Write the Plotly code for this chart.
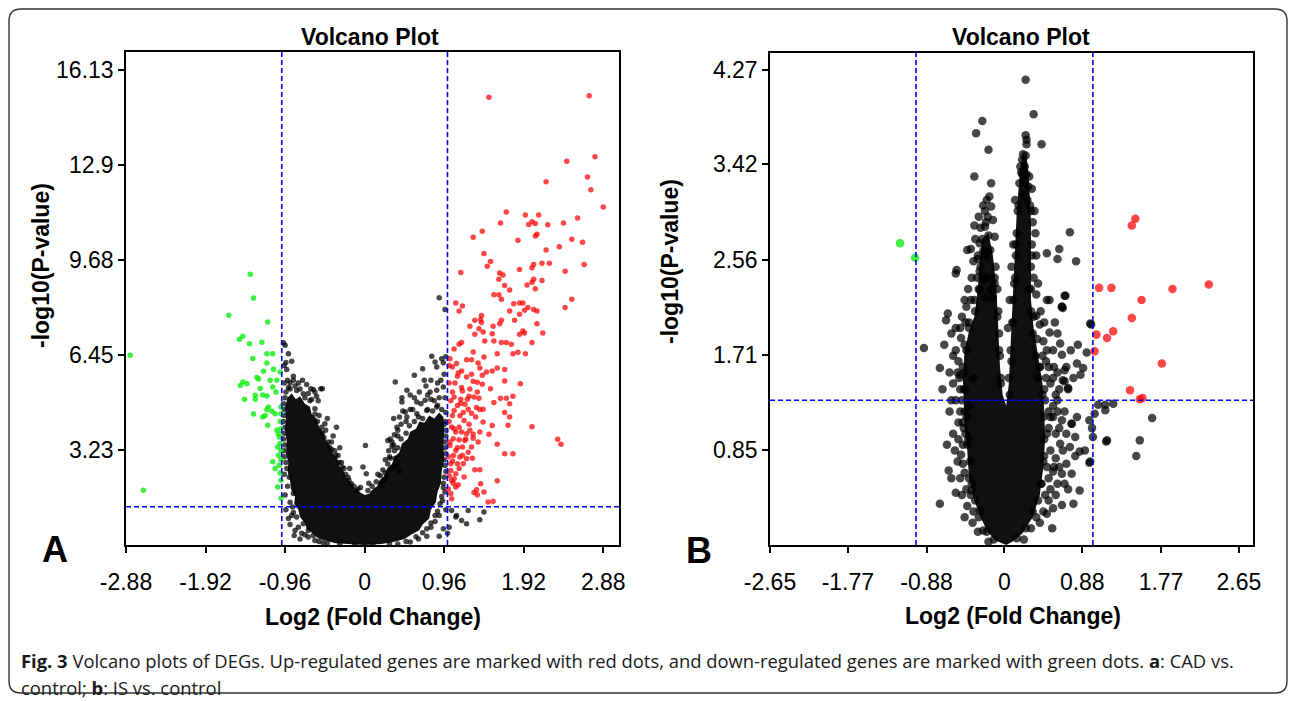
import plotly.graph_objects as go

# ---------------- data ----------------
# Panel A : CAD vs control
a_x_ticks = [-2.88, -1.92, -0.96, 0, 0.96, 1.92, 2.88]
a_x_ticktext = ["-2.88", "-1.92", "-0.96", "0", "0.96", "1.92", "2.88"]
a_y_ticks = [3.23, 6.45, 9.68, 12.9, 16.13]
a_y_ticktext = ["3.23", "6.45", "9.68", "12.9", "16.13"]

a_up = [(1.50,15.21),(2.71,15.26),(2.44,13.04),(2.78,13.19),(2.69,12.50),(2.19,12.34),(2.73,12.07),(2.88,11.48),
(1.71,11.31),(1.94,11.21),(2.10,11.21),(1.64,10.94),(1.98,10.89),(2.02,10.98),(2.06,10.92),(2.21,10.88),(2.40,10.94),
(2.57,11.11),(1.42,10.66),(1.31,10.46),(1.85,10.35),(2.06,10.50),(2.08,10.56),(2.50,10.39),(2.63,10.29),(2.35,10.13),
(2.19,10.02),(1.44,9.90),(1.52,9.63),(1.48,9.47),(1.16,9.26),(1.87,9.36),(2.02,9.42),(2.04,9.53),(2.14,9.57),(2.23,9.57),
(2.42,9.30),(2.65,9.53),(1.63,9.24),(1.67,9.17),(1.62,9.03),(1.69,8.82),(1.75,8.66),(1.96,8.83),(2.02,8.93),(2.04,9.03),
(2.14,8.99),(2.06,8.71),(1.56,8.50),(1.62,8.50),(2.50,8.35),(1.65,8.35),(1.10,8.22),(1.18,8.12),(1.14,7.95),(1.80,8.20),
(1.87,8.22),(1.91,8.22),(1.97,8.07),(2.04,8.00),(2.08,7.95),(1.93,7.98),(1.87,7.84),(1.75,7.95),(2.42,8.07),(1.41,7.80),
(1.40,7.66),(1.33,7.64),(1.41,7.56),(1.27,7.43),(1.65,7.64),(1.63,7.52),(1.81,7.64),(1.55,7.43),(1.38,7.35),(1.43,7.24),
(1.33,7.16),(1.54,7.18),(2.08,7.52),(1.91,7.27),(1.93,7.20),(1.87,7.16),(2.15,7.20),(1.45,6.93),(1.56,6.93),(1.65,6.88),
(1.71,6.88),(1.77,6.82),(2.02,6.88),(1.14,6.82),(1.17,6.88),(1.08,6.66),(1.31,6.56),(1.60,6.50),(1.79,6.50),(1.85,6.55),
(1.94,6.50),(1.44,6.39),(1.23,6.29),(1.29,6.29),(1.11,6.17),(1.37,6.18),(1.03,6.33),(1.06,6.05),(1.17,5.91),(1.13,5.84),
(1.39,6.01),(1.47,5.88),(1.54,5.91),(1.60,6.01),(1.69,5.96),(1.12,5.73),(1.29,5.80),(1.23,5.71),(1.42,5.77),(1.69,5.57),
(1.88,5.48),(1.31,5.56),(1.36,5.53),(1.42,5.46),(1.18,5.23),(1.06,5.20),(1.08,5.03),(1.27,5.30),(1.32,5.03),(1.36,5.20),
(1.38,4.99),(1.52,5.31),(1.64,4.99),(1.71,4.99),(1.79,5.05),(1.75,4.80),(1.56,4.84),(1.12,4.74),(1.16,4.82),(1.21,4.78),
(1.25,4.61),(1.29,4.48),(1.35,4.67),(1.39,4.60),(1.43,4.61),(1.08,4.57),(1.15,4.39),(1.20,4.23),(1.34,4.35),(1.69,4.50),
(1.75,4.35),(1.43,4.18),(1.54,4.06),(1.50,3.76),(1.73,4.07),(2.02,4.02),(1.05,4.01),(1.10,3.84),(1.17,3.84),(1.23,3.78),
(1.31,3.76),(1.39,3.84),(2.33,3.59),(2.37,3.42),(1.07,3.61),(1.14,3.58),(1.21,3.55),(1.31,3.63),(1.37,3.50),(1.60,3.42),
(1.03,3.38),(1.10,3.21),(1.18,3.33),(1.29,3.33),(1.69,3.10),(1.79,3.10),(1.07,3.04),(1.15,2.99),(1.23,2.93),(1.04,2.76),
(1.12,2.76),(1.19,2.76),(1.33,2.56),(1.39,2.56),(1.04,2.53),(1.10,2.42),(1.20,2.31),(1.05,2.19),(1.60,2.18),(1.40,2.08),
(1.07,2.10),(1.10,1.97),(1.35,1.88),(1.32,1.78),(1.44,1.80),(1.36,1.71),(1.05,1.57),(1.49,1.46),(1.55,1.49),
(1.02,5.50),(1.04,4.90),(1.06,4.40),(1.02,4.20),(1.08,3.95),(1.03,3.50),(1.12,3.30),(1.01,3.00),(1.06,2.85),(1.14,2.60),
(1.02,2.35),(1.08,2.25),(1.13,2.05),(1.01,1.90),(1.04,1.75),(1.16,4.95),(1.24,4.95),(1.19,4.50),(1.26,4.10),(1.14,4.00),
(1.22,3.60),(1.27,3.90),(1.18,3.05),(1.25,3.15),(1.30,2.95),(1.02,6.10),(1.09,5.50),(1.17,5.35),(1.26,5.05)]

a_down = [(-1.38,9.20),(-1.34,8.39),(-1.64,7.81),(-1.17,7.58),(-1.47,7.09),(-1.51,6.99),(-1.39,6.84),(-1.24,6.89),
(-2.83,6.45),(-1.18,6.50),(-1.11,6.50),(-1.35,6.34),(-1.18,6.18),(-1.10,5.97),(-1.02,5.88),(-1.30,5.69),(-1.28,5.64),
(-1.47,5.54),(-1.50,5.42),(-1.42,5.48),(-1.06,5.60),(-1.26,5.32),(-1.11,5.37),(-1.07,5.20),(-1.32,5.09),(-1.23,5.10),
(-1.18,5.06),(-1.45,4.95),(-1.32,4.95),(-1.16,4.69),(-1.18,4.60),(-1.12,4.54),(-1.08,4.46),(-1.01,4.69),(-1.01,4.46),
(-1.34,4.45),(-1.23,4.35),(-1.20,4.40),(-1.17,4.07),(-1.04,3.78),(-1.03,3.67),(-1.05,3.33),(-1.01,3.21),(-1.11,2.83),
(-1.03,2.71),(-1.05,1.97),(-1.01,1.59),(-2.67,1.86),(-1.02,4.20),(-1.01,3.95),(-1.06,3.90),(-1.02,3.45),(-1.04,3.05),
(-1.01,2.90),(-1.08,2.60),(-1.02,2.45),(-1.01,2.20),(-1.14,5.60),(-1.22,5.90)]

a_ns = [(-0.98,6.87),(-0.96,6.79),(-0.88,6.24),(-0.94,5.96),(-0.86,5.73),(-0.86,5.60),(-0.97,5.50),(-0.95,5.20),
(-0.92,5.35),(-0.98,4.80),(-0.97,4.40),(-0.96,4.00),(-0.98,3.60),(-0.97,3.20),(-0.95,2.80),(-0.97,2.40),(-0.93,2.00),
(-0.96,1.70),(-0.90,1.45),(-0.95,1.20),(-0.92,0.90),
(-0.74,5.14),(-0.62,5.28),(-0.51,5.31),(-0.53,5.31),(-0.65,5.31),(-0.64,4.94),(-0.60,4.63),(-0.48,4.12),(-0.47,3.90),
(-0.51,3.80),(-0.40,3.50),(-0.32,3.04),(-0.25,2.60),(-0.16,2.08),(-0.10,1.85),(-0.80,5.50),(-0.70,5.45),(-0.56,4.90),
(-0.55,4.40),(-0.42,3.30),(-0.36,3.20),(-0.28,2.80),(-0.20,2.30),
(0.01,3.38),(-0.02,2.65),(0.02,2.42),(0.10,1.76),(-0.05,1.95),(0.05,2.10),
(0.28,3.55),(0.37,5.54),(0.51,5.26),(0.45,4.86),(0.49,4.52),(0.38,2.70),(0.42,2.50),(0.30,3.00),(0.35,3.40),(0.20,2.10),
(0.25,2.45),(0.40,3.70),(0.44,4.10),(0.55,4.60),(0.60,5.00),
(0.60,5.77),(0.70,5.99),(0.72,5.60),(0.74,5.40),(0.81,6.41),(0.85,6.22),(0.93,6.33),(0.87,6.05),(0.95,6.19),(0.98,6.40),
(0.63,4.86),(0.73,4.92),(0.79,5.20),(0.87,5.26),(0.95,5.37),(0.51,4.35),(0.63,4.46),(0.75,4.57),(0.87,4.69),(0.90,8.40),
(0.97,8.00),(0.96,5.80),(0.92,5.60),
(0.97,5.00),(0.98,4.50),(0.96,4.10),(0.98,3.70),(0.97,3.30),(0.96,2.90),(0.98,2.50),(0.95,2.10),(0.97,1.80),(0.94,1.50),
(0.98,1.20),(0.90,1.00),
(1.05,1.17),(1.11,1.00),(1.17,0.83),(1.23,0.72),(1.25,1.17),(1.44,1.12),(1.39,0.86),(1.10,0.95),(1.02,0.60),(1.00,0.40),
(0.95,0.55),(0.90,0.30),
(-0.87,1.29),(-0.82,0.95),(-0.74,0.72),(-0.84,0.49),(-0.68,0.49),(-0.62,0.32),(-0.85,0.32),(-0.68,0.27),(-0.90,0.70),
(-0.78,0.20),(-0.55,0.12),(-0.45,0.05),
(0.80,0.60),(0.75,0.30),(0.65,0.20),(0.55,0.10),(0.40,0.03),(0.85,0.80),
(-0.88,1.00),(-0.86,1.75),(-0.91,2.30),(-0.94,2.60),(-0.97,3.00),(-0.96,3.40),(-0.97,3.80),(-0.98,4.20),(-0.97,4.60),
(-0.96,5.00),(-0.90,5.30),(-0.82,5.25),(-0.76,0.40),(-0.72,0.35),(-0.60,0.15),(-0.50,0.08),(-0.80,0.60),(-0.86,1.10),
(-0.72,5.00),(-0.66,4.90),(-0.60,4.45),(-0.57,4.20),(-0.52,4.00),(-0.49,3.65),(-0.44,3.50),(-0.40,3.25),(-0.35,3.05),
(-0.31,2.80),(-0.27,2.65),(-0.23,2.40),(-0.19,2.20),(-0.13,2.00),(-0.08,1.90),(-0.58,5.05),(-0.45,4.30),(-0.38,3.70),
(-0.30,3.30),(-0.18,2.60),(-0.34,4.00),
(0.04,1.85),(0.09,2.00),(0.14,2.15),(0.19,2.35),(0.22,2.55),(0.28,2.75),(0.31,2.95),(0.36,3.20),(0.40,3.30),(0.44,3.60),
(0.50,3.80),(0.54,4.05),(0.60,4.20),(0.65,4.35),(0.70,4.30),(0.76,4.60),(0.82,4.55),(0.88,4.75),(0.93,4.60),(0.16,2.40),
(0.25,2.90),(0.33,3.50),(0.40,3.90),(0.50,4.20),(0.58,4.60),(0.68,4.80),(0.80,4.95),(0.90,5.00),
(0.97,4.20),(0.98,3.90),(0.97,3.50),(0.98,3.10),(0.97,2.70),(0.96,2.30),(0.95,1.95),(0.93,1.65),(0.91,1.40),(0.88,1.15),
(0.85,1.00),(0.80,0.75),(0.75,0.55),(0.70,0.42),(0.62,0.28),(0.50,0.12),
(-0.12,0.00),(0.10,0.00),(-0.30,0.02),(0.30,0.04),
(0.29,3.20),(0.33,3.35),(0.31,3.60),(0.36,3.75),(0.39,4.00),(0.42,4.35),(0.46,4.55),(0.37,2.95),(0.32,2.60),(0.27,2.35),
(0.24,2.20),(0.21,2.00),(0.35,4.30),(0.45,5.00),(0.55,5.10),(0.66,5.20),(0.80,5.60),(0.88,5.50),(0.84,4.90),(0.76,5.10),
(-0.93,5.60),(-0.90,5.50),(-0.84,5.40),(-0.78,5.30),(-0.75,5.60),(-0.95,6.20),(-0.92,6.50),(-0.97,6.10),(-0.60,5.20),
(-0.68,5.15)]

# outline of the densely overplotted (solid black) part of the cloud in A
a_core = [(0.00,0.00),(-0.20,0.02),(-0.35,0.06),(-0.48,0.15),(-0.56,0.22),(-0.62,0.38),(-0.70,0.55),(-0.72,0.75),
(-0.78,0.95),(-0.80,1.20),(-0.85,1.40),(-0.84,1.65),(-0.89,1.90),(-0.90,2.20),(-0.93,2.50),(-0.92,2.80),(-0.95,3.10),
(-0.94,3.50),(-0.96,3.90),(-0.95,4.30),(-0.96,4.70),(-0.93,5.00),(-0.88,5.15),(-0.83,4.95),(-0.78,5.05),(-0.72,4.80),
(-0.66,4.70),(-0.64,4.45),(-0.58,4.30),(-0.55,4.00),(-0.50,3.85),(-0.47,3.55),(-0.42,3.40),(-0.38,3.10),(-0.33,2.95),
(-0.30,2.65),(-0.25,2.50),(-0.22,2.25),(-0.16,2.10),(-0.12,1.90),(-0.06,1.80),(0.00,1.70),(0.06,1.75),(0.10,1.90),
(0.15,2.00),(0.18,2.20),(0.24,2.35),(0.27,2.60),(0.33,2.75),(0.36,3.00),(0.42,3.15),(0.45,3.45),(0.52,3.60),(0.55,3.85),
(0.62,3.95),(0.66,4.20),(0.72,4.15),(0.78,4.40),(0.84,4.30),(0.90,4.50),(0.95,4.35),(0.96,3.90),(0.95,3.40),(0.96,2.90),
(0.93,2.50),(0.92,2.10),(0.88,1.80),(0.86,1.45),(0.80,1.20),(0.78,0.90),(0.70,0.70),(0.66,0.50),(0.56,0.35),(0.48,0.20),
(0.35,0.10),(0.20,0.03),(0.00,0.00)]

# Panel B : IS vs control
b_x_ticks = [-2.65, -1.77, -0.88, 0, 0.88, 1.77, 2.65]
b_x_ticktext = ["-2.65", "-1.77", "-0.88", "0", "0.88", "1.77", "2.65"]
b_y_ticks = [0.85, 1.71, 2.56, 3.42, 4.27]
b_y_ticktext = ["0.85", "1.71", "2.56", "3.42", "4.27"]

b_up = [(1.48,2.93),(1.44,2.87),(1.07,2.31),(1.21,2.31),(1.90,2.30),(2.31,2.34),(1.55,2.20),(1.44,2.04),(1.04,1.89),
(1.16,1.86),(1.23,1.92),(1.02,1.74),(1.78,1.63),(1.42,1.39),(1.56,1.32),(1.53,1.31)]
b_down = [(-1.18,2.71),(-1.01,2.58)]

b_ns = [(0.24,4.18),(0.33,3.87),(-0.25,3.81),(-0.32,3.70),(-0.18,3.55),(0.24,3.68),(0.25,3.64),(0.42,3.60),(0.21,3.51),
(0.20,3.46),(0.18,3.40),(0.23,3.40),(0.25,3.33),(0.28,3.31),(0.20,3.33),(-0.34,3.31),(-0.15,3.25),(0.27,3.22),(0.22,3.15),
(-0.17,3.13),(-0.20,3.10),(-0.15,3.04),(-0.22,3.00),(-0.13,2.92),(-0.34,2.87),(-0.22,2.86),(-0.11,2.77),(-0.28,2.71),
(-0.24,2.64),(-0.20,2.59),(-0.30,2.57),(-0.42,2.65),(-0.38,2.66),(-0.54,2.47),(-0.55,2.44),(-0.28,2.46),(-0.24,2.38),
(-0.20,2.41),(-0.11,2.40),(-0.28,2.29),(-0.15,2.29),(-0.13,2.22),(-0.22,2.22),(-0.45,2.20),(-0.43,2.14),(0.74,2.81),
(0.48,2.62),(0.62,2.66),(0.60,2.57),(0.81,2.55),(0.48,2.20),(0.69,2.24),(0.65,2.14),(0.68,2.24),(0.66,2.13),
(0.15,3.00),(0.30,3.00),(0.14,2.80),(0.31,2.70),(0.13,2.60),(0.30,2.50),(0.12,2.40),(0.28,2.30),(0.10,2.20),(0.30,2.10),
(0.33,2.40),(0.09,2.00),(0.32,1.90),(0.07,1.75),(0.35,1.70),(0.05,1.50),(0.38,1.50),(0.32,2.90),(0.17,3.25),(0.26,3.10),
(-0.25,2.75),(-0.18,2.78),(-0.27,2.50),(-0.10,2.50),(-0.29,2.30),(-0.08,2.30),(-0.33,2.10),(-0.07,2.10),(-0.40,1.95),
(-0.06,1.90),(-0.43,1.75),(-0.05,1.70),(-0.45,1.55),(-0.04,1.50),(-0.44,1.40),
(-0.91,1.77),(-0.73,1.59),(-0.64,2.08),(-0.66,2.02),(-0.49,1.86),(-0.50,1.53),(-0.51,1.50),(-0.49,0.81),(-0.47,0.73),
(-0.63,0.67),(-0.55,0.47),(-0.73,0.37),(-0.37,0.49),(-0.28,0.31),(-0.24,0.13),(-0.45,1.20),(-0.44,1.00),(-0.42,0.90),
(-0.40,0.60),(-0.35,0.30),(-0.48,1.30),(-0.52,1.10),(-0.58,1.70),(-0.55,1.95),
(0.36,2.06),(0.40,1.98),(0.51,1.91),(0.44,1.83),(0.55,1.75),(0.63,1.81),(0.65,1.71),(0.56,1.60),(0.68,1.57),(0.72,1.41),
(0.66,1.48),(0.83,1.80),(0.89,1.59),(0.86,1.53),(0.82,1.63),(0.97,1.99),(0.51,2.20),(0.65,2.14),(0.98,1.98),(0.93,1.73),
(0.68,1.47),(0.72,1.40),(0.55,1.15),(0.65,1.12),(0.76,1.09),(0.63,0.91),(0.74,0.88),(0.85,0.84),(0.91,0.85),(0.97,0.75),
(0.70,0.73),(0.55,0.66),(0.65,0.64),(0.76,0.64),(0.85,0.49),(0.78,0.37),(0.65,0.36),(0.55,0.33),(0.54,0.15),(0.48,0.28),
(0.36,0.25),(1.06,1.26),(1.14,1.26),(1.23,1.27),(1.02,1.18),(1.14,1.21),(1.67,1.14),(0.96,1.12),(0.99,1.05),(1.00,0.97),
(1.16,0.94),(1.53,0.94),(0.80,0.97),(0.76,1.09),(1.49,0.80),(1.15,0.93),(0.96,0.74),(0.45,1.40),(0.50,1.20),(0.48,1.00),
(0.45,0.80),(0.42,0.55),(0.60,1.30),(0.58,1.00),(0.40,1.60),(0.47,1.65),
(-0.40,1.25),(-0.43,1.15),(-0.41,0.95),(-0.39,0.75),(-0.37,0.55),(-0.33,0.40),(-0.29,0.25),(-0.20,0.12),(-0.12,0.05),
(-0.46,1.05),(-0.47,0.90),(-0.45,0.65),(-0.38,0.45),(-0.52,0.95),(-0.50,0.60),(-0.56,0.85),
(-0.46,1.40),(-0.47,1.60),(-0.45,1.80),(-0.40,2.00),(-0.34,2.20),(-0.31,2.40),(-0.30,2.60),(-0.27,2.85),(-0.21,2.90),
(-0.16,2.65),(-0.11,2.35),(-0.08,2.05),(-0.06,1.75),(-0.04,1.45),(-0.35,1.50),(-0.52,1.65),(-0.48,2.05),(-0.60,1.30),
(-0.58,1.45),
(0.06,1.35),(0.08,1.65),(0.10,2.00),(0.11,2.35),(0.13,2.70),(0.16,3.05),(0.19,3.35),(0.24,3.50),(0.29,3.05),(0.31,2.60),
(0.30,2.30),(0.33,2.05),(0.37,1.85),(0.40,1.60),(0.43,1.35),(0.47,1.50),(0.52,1.45),(0.36,2.25),(0.25,3.60),(0.22,3.25),
(0.44,1.15),(0.45,0.95),(0.44,0.75),(0.41,0.55),(0.38,0.40),(0.32,0.30),(0.24,0.15),(0.14,0.06),(0.50,1.05),(0.52,0.85),
(0.50,0.60),(0.46,0.45),(0.58,0.78),(0.60,0.55),(0.55,1.25),(0.62,1.05),
(-0.48,0.45),(-0.53,0.75),(-0.58,1.00),(-0.50,1.20),(-0.55,1.30),(-0.42,0.35),(-0.45,0.25),(-0.60,0.60),(-0.65,0.90),
(-0.62,1.20),(-0.43,0.50),(-0.47,1.10),(-0.36,0.20),(-0.30,0.12),(-0.18,0.03),
(-0.50,1.40),(-0.53,1.55),(-0.55,1.75),(-0.50,1.95),(-0.44,2.00),(-0.38,2.20),(-0.37,2.40),(-0.35,2.55),(-0.33,2.75),
(-0.29,2.95),(-0.24,3.05),(-0.19,2.95),(-0.62,1.55),(-0.68,1.80),(-0.60,1.90),(-0.70,1.40),(-0.41,2.30),
(0.41,2.10),(0.45,2.00),(0.43,1.70),(0.48,1.75),(0.50,1.60),(0.55,1.50),(0.60,1.55),(0.62,1.40),(0.58,1.35),(0.46,1.30),
(0.70,1.60),(0.75,1.75),(0.78,1.50),(0.57,2.00),(0.60,1.90),(0.38,2.35),(0.36,2.60),(0.35,2.80),(0.34,3.00),(0.31,3.20),
(0.12,3.10),(0.10,2.70),(0.08,2.50),(0.06,2.20),(0.04,1.95),
(0.52,1.15),(0.60,1.20),(0.68,1.20),(0.70,1.00),(0.66,0.85),(0.56,0.70),(0.62,0.70),(0.68,0.55),(0.58,0.45),(0.52,0.50),
(0.48,0.70),(0.50,0.40),(0.44,0.30),(0.40,0.20),(0.30,0.15),(0.22,0.05),(0.80,0.80),(0.82,1.15),(0.72,0.50)]

b_core = [(0.02,0.00),(-0.10,0.04),(-0.19,0.12),(-0.27,0.25),(-0.34,0.40),(-0.40,0.60),(-0.42,0.85),(-0.45,1.05),
(-0.46,1.30),(-0.47,1.50),(-0.45,1.75),(-0.40,1.92),(-0.34,2.05),(-0.30,2.30),(-0.28,2.55),(-0.25,2.75),(-0.18,2.80),
(-0.13,2.60),(-0.09,2.30),(-0.07,2.00),(-0.05,1.60),(-0.02,1.35),(0.02,1.25),(0.05,1.45),(0.07,1.80),(0.09,2.20),
(0.12,2.60),(0.14,3.00),(0.17,3.30),(0.20,3.50),(0.25,3.50),(0.28,3.25),(0.30,2.90),(0.30,2.50),(0.30,2.20),(0.33,1.95),
(0.38,1.70),(0.43,1.45),(0.45,1.20),(0.46,0.95),(0.44,0.70),(0.40,0.45),(0.32,0.25),(0.20,0.10),(0.09,0.03),(0.02,0.00)]

fc_cut = [-1.0, 1.0]
p_cut = 1.3

# ---------------- figure ----------------
W, H = 1295, 701
def px(x): return x / W
def py(y): return 1 - y / H

BLACK = "rgba(0,0,0,0.72)"
RED = "rgba(255,0,0,0.72)"
GREEN = "rgba(0,235,0,0.75)"
CORE = "rgba(3,3,3,0.95)"

fig = go.Figure()

def add_panel(core, ns, up, down, xa, ya, size):
    fig.add_trace(go.Scatter(x=[p[0] for p in core], y=[p[1] for p in core], mode="lines",
                             fill="toself", fillcolor=CORE, line=dict(width=0, color=CORE),
                             xaxis=xa, yaxis=ya, hoverinfo="skip", showlegend=False))
    for pts, col in ((ns, BLACK), (up, RED), (down, GREEN)):
        fig.add_trace(go.Scatter(x=[p[0] for p in pts], y=[p[1] for p in pts], mode="markers",
                                 marker=dict(size=size, color=col, line=dict(width=0)),
                                 xaxis=xa, yaxis=ya, showlegend=False))

add_panel(a_core, a_ns, a_up, a_down, "x", "y", 5.5)
add_panel(b_core, b_ns, b_up, b_down, "x2", "y2", 8.5)

tickfont = dict(family="Liberation Sans, Arial, sans-serif", size=23, color="black")
axis_common = dict(showgrid=False, zeroline=False, showline=True, mirror=True, linecolor="black",
                   linewidth=1.5, ticks="outside", ticklen=6, tickwidth=1.5, tickcolor="black",
                   tickfont=tickfont, autorange=False, automargin=False)

fig.update_layout(
    width=W, height=H, margin=dict(l=0, r=0, t=0, b=0, pad=0), autosize=False,
    paper_bgcolor="white", plot_bgcolor="white", showlegend=False,
    xaxis=dict(domain=[px(126), px(619)], range=[-2.88, 3.07], tickvals=a_x_ticks, ticktext=a_x_ticktext,
               anchor="y", ticklabelstandoff=10, **axis_common),
    yaxis=dict(domain=[py(545), py(52)], range=[0, 16.75], tickvals=a_y_ticks, ticktext=a_y_ticktext,
               anchor="x", **axis_common),
    xaxis2=dict(domain=[px(770), px(1253)], range=[-2.65, 2.81], tickvals=b_x_ticks, ticktext=b_x_ticktext,
                anchor="y2", ticklabelstandoff=10, **axis_common),
    yaxis2=dict(domain=[py(545), py(53)], range=[0, 4.42], tickvals=b_y_ticks, ticktext=b_y_ticktext,
                anchor="x2", **axis_common),
)

# threshold lines
dash = "5px,3px"
for xa, ya in (("x", "y"), ("x2", "y2")):
    for c in fc_cut:
        fig.add_shape(type="line", xref=xa, yref=f"{ya} domain", x0=c, x1=c, y0=0, y1=1,
                      line=dict(color="#0000ff", width=1.6, dash=dash))
    fig.add_shape(type="line", xref=f"{xa} domain", yref=ya, x0=0, x1=1, y0=p_cut, y1=p_cut,
                  line=dict(color="#0000ff", width=1.6, dash=dash))

# outer rounded border
x0, x1, y0, y1 = px(9), px(1287), py(693), py(9)
rx, ry = 12 / W, 12 / H
path = (f"M {x0+rx},{y1} L {x1-rx},{y1} Q {x1},{y1} {x1},{y1-ry} L {x1},{y0+ry} Q {x1},{y0} {x1-rx},{y0} "
        f"L {x0+rx},{y0} Q {x0},{y0} {x0},{y0+ry} L {x0},{y1-ry} Q {x0},{y1} {x0+rx},{y1} Z")
fig.add_shape(type="path", path=path, xref="paper", yref="paper", line=dict(color="#333333", width=1.4))

bold = dict(family="Liberation Sans, Arial, sans-serif", size=23, color="black", weight="bold")
def ann(text, x, y, font, angle=0, xanchor="center"):
    fig.add_annotation(text=text, x=px(x), y=py(y), xref="paper", yref="paper", showarrow=False,
                       font=font, textangle=angle, xanchor=xanchor, yanchor="middle")

ann("Volcano Plot", 370, 37, bold)
ann("Volcano Plot", 1021, 37, bold)
ann("-log10(P-value)", 41, 266, bold, angle=-90)
ann("-log10(P-value)", 670, 262, bold, angle=-90)
ann("Log2 (Fold Change)", 373, 617, bold)
ann("Log2 (Fold Change)", 1013, 616, bold)
letter = dict(family="Liberation Sans, Arial, sans-serif", size=36, color="black", weight="bold")
ann("A", 55, 549, letter)
ann("B", 699, 550, letter)

cap = dict(family="Open Sans, Noto Sans, sans-serif", size=18.4, color="#1a1a1a")
ann("<b>Fig. 3</b> Volcano plots of DEGs. Up-regulated genes are marked with red dots, and down-regulated genes "
    "are marked with green dots. <b>a</b>: CAD vs.", 19, 660, cap, xanchor="left")
ann("control; <b>b</b>: IS vs. control", 19, 687, cap, xanchor="left")

fig.write_html("out.html", config={"displayModeBar": False},
               post_script="document.body.style.margin='0px';")
